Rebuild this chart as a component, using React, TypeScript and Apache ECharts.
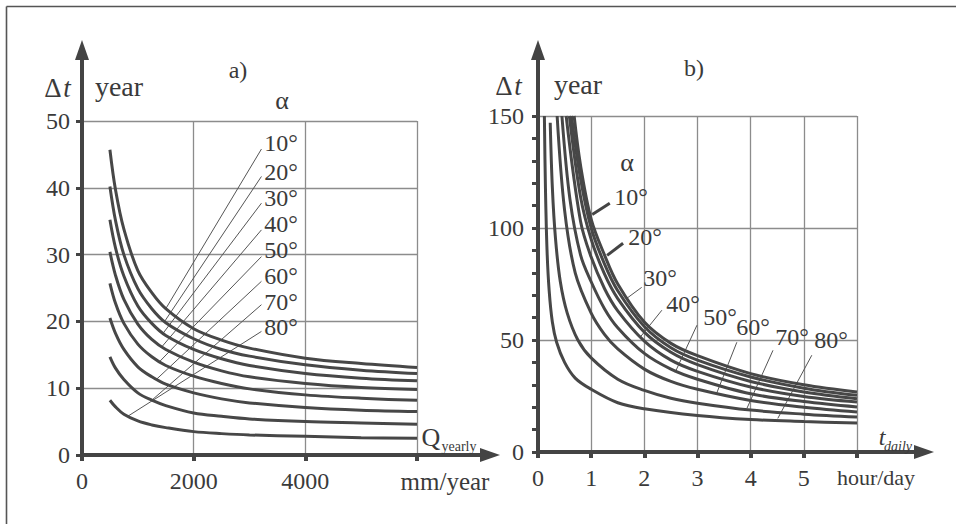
import { useEffect, useRef } from 'react';
import * as echarts from 'echarts';

const FONT = "'Liberation Serif', 'Times New Roman', serif";
const INK = '#3a3a3a';
const CURVE = '#474747';
const GRIDC = '#8c8c8c';

const alphaLabels = ['10°', '20°', '30°', '40°', '50°', '60°', '70°', '80°'];

// a) Δt (year) vs Q_yearly (mm/year)
const aX = [500, 600, 750, 1000, 1250, 1500, 2000, 2500, 3000, 4000, 5000, 6000];
const a10 = [45.7, 39.7, 33.8, 27.6, 24.3, 21.9, 18.9, 17.2, 16.0, 14.5, 13.7, 13.1];
const a20 = [40.2, 35.1, 30.0, 24.9, 21.9, 19.8, 17.4, 15.8, 14.8, 13.5, 12.7, 12.2];
const a30 = [35.2, 31.0, 26.8, 22.3, 19.7, 17.9, 15.8, 14.4, 13.4, 12.2, 11.5, 11.1];
const a40 = [30.4, 26.9, 23.3, 19.6, 17.3, 15.8, 13.9, 12.6, 11.7, 10.7, 10.1, 9.8];
const a50 = [25.7, 22.7, 19.7, 16.6, 14.7, 13.4, 11.8, 10.7, 9.9, 9.0, 8.5, 8.2];
const a60 = [20.5, 18.2, 15.8, 13.2, 11.7, 10.6, 9.3, 8.4, 7.8, 7.1, 6.7, 6.5];
const a70 = [14.7, 13.0, 11.3, 9.3, 8.2, 7.4, 6.3, 5.8, 5.4, 5.0, 4.8, 4.6];
const a80 = [8.2, 7.2, 6.1, 5.1, 4.5, 4.1, 3.5, 3.2, 3.0, 2.8, 2.6, 2.5];
const aCurves = [a10, a20, a30, a40, a50, a60, a70, a80];
const aXTicks = [0, 2000, 4000, 6000];
const aYTicks = [0, 10, 20, 30, 40, 50];
// leader lines a): label end (x,y) -> curve point (x,y)
const aLeadStartX = 3214;
const aLeadStartY = [45.8, 41.7, 37.7, 33.7, 29.7, 26.0, 22.5, 18.5];
const aLeadEndX = [1500, 1480, 1450, 1420, 1380, 1330, 1250, 820];
const aLeadEndY = [21.9, 20.0, 18.2, 16.1, 13.9, 11.3, 8.2, 5.8];

// b) Δt (year) vs t_daily (hour/day)
const b10 = [[0.68, 150], [0.8, 128], [1.0, 104], [1.25, 88], [1.5, 75], [2.0, 58], [2.5, 48.5], [3.0, 43], [4.0, 35], [5.0, 30], [6.0, 26.8]];
const b20 = [[0.63, 150], [0.8, 122], [1.0, 100], [1.25, 84], [1.5, 72], [2.0, 56], [2.5, 46.5], [3.0, 41], [4.0, 33.5], [5.0, 28.5], [6.0, 25.3]];
const b30 = [[0.59, 150], [0.8, 114], [1.0, 95], [1.25, 79.5], [1.5, 68.5], [2.0, 53.5], [2.5, 44.5], [3.0, 39], [4.0, 31.5], [5.0, 26.8], [6.0, 23.8]];
const b40 = [[0.53, 150], [0.8, 103], [1.0, 87], [1.25, 73], [1.5, 63], [2.0, 49.5], [2.5, 41], [3.0, 36], [4.0, 29], [5.0, 24.8], [6.0, 22.3]];
const b50 = [[0.45, 150], [0.6, 113], [0.8, 88], [1.0, 76], [1.25, 64], [1.5, 55.5], [2.0, 44], [2.5, 37], [3.0, 32.5], [4.0, 26], [5.0, 22.5], [6.0, 20.1]];
const b60 = [[0.36, 150], [0.5, 108], [0.7, 80], [1.0, 62], [1.25, 52.5], [1.5, 46], [2.0, 37], [2.5, 31.5], [3.0, 28], [4.0, 23], [5.0, 20], [6.0, 17.9]];
const b70 = [[0.23, 147], [0.27, 118], [0.33, 95], [0.42, 76], [0.55, 62], [0.75, 50], [1.0, 42], [1.5, 32.5], [2.0, 27.5], [2.5, 24], [3.0, 21.8], [4.0, 18.7], [5.0, 16.9], [6.0, 15.6]];
const b80 = [[0.12, 150], [0.14, 118], [0.17, 90], [0.21, 72], [0.27, 58], [0.35, 49], [0.5, 40], [0.7, 33], [1.0, 28], [1.5, 22], [2.0, 19.3], [3.0, 16.3], [4.0, 14.5], [5.0, 13.6], [6.0, 12.9]];
const bCurves = [b10, b20, b30, b40, b50, b60, b70, b80];
// leader lines b)
const bLeadStart = [[1.35, 111], [1.6, 93.2], [1.95, 73.5], [2.33, 63.3], [2.99, 56.6], [3.74, 49.0], [4.42, 45.4], [5.15, 43.2]];
const bLeadEnd = [[1.02, 106], [1.3, 87.8], [1.67, 68.6], [1.92, 51.2], [2.58, 35.6], [3.36, 26.2], [3.93, 19.5], [4.51, 15.0]];

export default function App() {
  const ref = useRef<HTMLDivElement>(null);
  useEffect(() => {
    if (!ref.current) return;
    const chart = echarts.init(ref.current, undefined, { renderer: 'svg' });

    const axisLineStyle = { color: '#444', width: 4 };
    const labelBase = { color: INK, fontFamily: FONT, fontSize: 24 };

    const series: any[] = [];
    aCurves.forEach((ys, i) => {
      series.push({
        type: 'line', xAxisIndex: 0, yAxisIndex: 0, name: 'a ' + alphaLabels[i],
        data: aX.map((x, k) => [x, ys[k]]), showSymbol: false, symbol: 'none',
        smooth: 0.35, lineStyle: { color: CURVE, width: 3 }, silent: true, z: 3,
      });
      series.push({
        type: 'line', xAxisIndex: 0, yAxisIndex: 0,
        data: [[aLeadStartX, aLeadStartY[i]], [aLeadEndX[i], aLeadEndY[i]]],
        showSymbol: false, symbol: 'none', lineStyle: { color: '#555', width: 1 }, silent: true, z: 2,
      });
    });
    bCurves.forEach((pts, i) => {
      series.push({
        type: 'line', xAxisIndex: 1, yAxisIndex: 1, name: 'b ' + alphaLabels[i],
        data: pts, showSymbol: false, symbol: 'none',
        smooth: 0.35, lineStyle: { color: CURVE, width: 3 }, silent: true, z: 3,
      });
      series.push({
        type: 'line', xAxisIndex: 1, yAxisIndex: 1,
        data: [bLeadStart[i], bLeadEnd[i]],
        showSymbol: false, symbol: 'none',
        lineStyle: { color: i < 2 ? '#444' : '#555', width: i < 2 ? 3 : 1 }, silent: true, z: 2,
      });
    });

    const txt = (text: string, x: number, y: number, size = 24, extra: any = {}) => ({
      type: 'text', x, y, silent: true, z: 10,
      style: {
        text, fill: INK, font: `${extra.italic ? 'italic ' : ''}${size}px ${FONT}`,
        textAlign: extra.align || 'center', textVerticalAlign: 'middle',
        align: extra.align || 'center', verticalAlign: 'middle',
      },
    });
    const line = (x1: number, y1: number, x2: number, y2: number, w = 4, c = '#444') => ({
      type: 'line', silent: true, z: 5, shape: { x1, y1, x2, y2 }, style: { stroke: c, lineWidth: w },
    });
    const poly = (pts: number[][]) => ({
      type: 'polygon', silent: true, z: 5, shape: { points: pts }, style: { fill: '#444' },
    });

    const graphic: any[] = [
      // frame
      line(6.5, 6.5, 956, 6.5, 1.6, '#555'),
      line(6.5, 6.5, 6.5, 524, 1.6, '#555'),
      // axis extensions & arrows a)
      line(82, 123, 82, 56), poly([[82, 40], [75, 60], [89, 60]]),
      line(415, 455, 484, 455), poly([[500, 455], [480, 448], [480, 462]]),
      // axis extensions & arrows b)
      line(538, 118, 538, 56), poly([[538, 40], [531, 60], [545, 60]]),
      line(855, 452, 918, 452), poly([[934, 452], [914, 445], [914, 459]]),
      // titles
      txt('a)', 238, 70), txt('b)', 694, 68),
      txt('Δ', 53, 88, 27), txt('t', 67, 88, 27, { italic: true }), txt('year', 119, 86, 28),
      txt('Δ', 504, 86, 27), txt('t', 518, 86, 27, { italic: true }), txt('year', 578, 84, 28),
      txt('α', 282, 100, 26), txt('α', 627, 162, 26),
      txt('Q', 431, 437, 26), txt('yearly', 459, 446, 14),
      txt('t', 882, 437, 24, { italic: true }), txt('daily', 898, 446, 14, { italic: true }),
    ];
    const aLabY = [143, 172, 198, 224, 250, 276, 302, 327];
    aLabY.forEach((y, i) => graphic.push(txt(alphaLabels[i], 281, y)));
    const bLab = [[631, 197], [645, 237], [660, 278], [683, 304], [720, 317], [753, 327], [792, 337], [831, 340]];
    bLab.forEach(([x, y], i) => graphic.push(txt(alphaLabels[i], x, y)));

    chart.setOption({
      animation: false,
      backgroundColor: '#fff',
      grid: [
        { left: 82, top: 121, width: 335, height: 334 },
        { left: 538, top: 116, width: 319, height: 336 },
      ],
      xAxis: [
        {
          type: 'value', gridIndex: 0, min: aXTicks[0], max: aXTicks[aXTicks.length - 1], interval: 2000,
          axisLine: { show: true, lineStyle: axisLineStyle },
          axisTick: { show: true, length: 6, lineStyle: { color: '#444', width: 4 } },
          axisLabel: {
            ...labelBase, margin: 14,
            formatter: (v: number) => (v === 6000 ? '{u|mm/year}' : String(v)),
            rich: { u: { ...labelBase, fontSize: 25, padding: [0, 0, 0, 56] } },
          },
          splitLine: { show: true, lineStyle: { color: GRIDC, width: 1.3 } },
        },
        {
          type: 'value', gridIndex: 1, min: 0, max: 6, interval: 1,
          axisLine: { show: true, lineStyle: axisLineStyle },
          axisTick: { show: true, length: 6, lineStyle: { color: '#444', width: 4 } },
          axisLabel: {
            ...labelBase, margin: 14,
            formatter: (v: number) => (v === 6 ? '{u|hour/day}' : String(v)),
            rich: { u: { ...labelBase, fontSize: 22, padding: [0, 0, 0, 38] } },
          },
          splitLine: { show: true, lineStyle: { color: GRIDC, width: 1.3 } },
        },
      ],
      yAxis: [
        {
          type: 'value', gridIndex: 0, min: aYTicks[0], max: aYTicks[aYTicks.length - 1], interval: 10,
          axisLine: { show: true, lineStyle: axisLineStyle },
          axisTick: { show: true, length: 6, lineStyle: { color: '#444', width: 3 } },
          axisLabel: { ...labelBase, margin: 12 },
          splitLine: { show: true, lineStyle: { color: GRIDC, width: 1.3 } },
        },
        {
          type: 'value', gridIndex: 1, min: 0, max: 150, interval: 50,
          axisLine: { show: true, lineStyle: axisLineStyle },
          axisTick: { show: true, length: 6, lineStyle: { color: '#444', width: 3 } },
          minorTick: { show: true, splitNumber: 5, length: 6, lineStyle: { color: '#444', width: 3 } },
          axisLabel: { ...labelBase, margin: 14 },
          splitLine: { show: true, lineStyle: { color: GRIDC, width: 1.3 } },
        },
      ],
      series,
      graphic,
    });
    return () => chart.dispose();
  }, []);
  return <div ref={ref} style={{ position: 'fixed', left: 0, top: 0, width: 956, height: 524, background: '#fff' }} />;
}
